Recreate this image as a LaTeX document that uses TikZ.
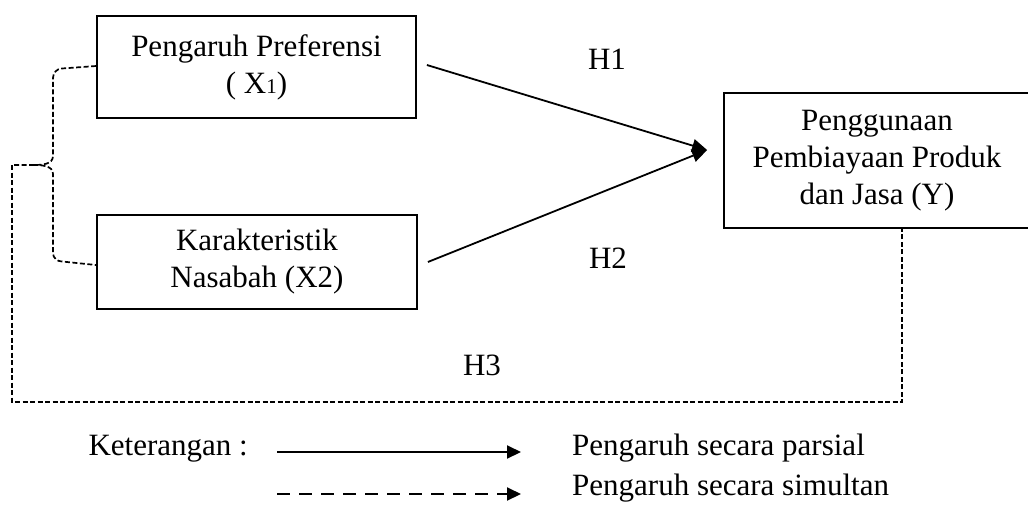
\documentclass[tikz,border=0pt]{standalone}
\usepackage{fontspec}
\setmainfont{Liberation Serif}
\usetikzlibrary{arrows.meta}
\tikzset{
  every node/.style={font=\fontsize{31}{37}\selectfont},
  box/.style={draw, line width=1.8pt, align=center, inner sep=0pt},
  partial/.style={line width=1.8pt, -{Triangle[length=15pt,width=13pt]}},
  simul/.style={line width=1.7pt, dash pattern=on 5pt off 2.5pt},
  legsolid/.style={line width=2pt, -{Triangle[length=14pt,width=13pt]}},
  legdash/.style={line width=2pt, dash pattern=on 13pt off 9pt, -{Triangle[length=14pt,width=13pt]}},
  lbl/.style={inner sep=0pt}
}
\begin{document}
\begin{tikzpicture}[x=1pt,y=-1pt]
\useasboundingbox (0,0) rectangle (1028,515);
% boxes
\node[box, minimum width=319pt, minimum height=102pt] (x1) at (256.5,67)
  {Pengaruh Preferensi\\( X{\fontsize{21}{21}\selectfont 1})};
\node[box, minimum width=320pt, minimum height=94pt] (x2) at (257,262)
  {Karakteristik\\Nasabah (X2)};
\node[box, minimum width=306pt, minimum height=135pt] (y) at (877,160.5)
  {Penggunaan\\Pembiayaan Produk\\dan Jasa (Y)};
% partial arrows
\coordinate (tip) at ([xshift=-16pt,yshift=10.5pt]y.west);
\draw[partial] ([xshift=10pt,yshift=2pt]x1.east) -- (tip);
\draw[partial] ([xshift=10pt]x2.east) -- (tip);
% labels
\node[lbl] (h1) at (607,59) {H1};
\node[lbl] (h2) at (608,258) {H2};
\node[lbl] (h3) at (482,365) {H3};
% brace
\coordinate (bm) at (12,165);
\coordinate (yb) at ([xshift=25pt]y.south);
\draw[simul] ([yshift=1pt]x1.west) -- (62,68.5) to[out=180,in=90] (53,78) -- (53,156)
  to[out=-90,in=0] (33,165) -- (bm);
\draw[simul] (33,165) to[out=0,in=90] (53,174) -- (53,253) to[out=-90,in=180] (62,261.5)
  -- ([yshift=-3pt]x2.west);
\draw[simul] (bm) -- (12,402) -| (yb);
% legend
\node[lbl, anchor=base east] (ket) at (248,455) {Keterangan :};
\coordinate (l1s) at (277,452);
\coordinate (l1e) at (521,452);
\coordinate (l2s) at (277,494);
\coordinate (l2e) at (521,494);
\draw[legsolid] (l1s) -- (l1e);
\draw[legdash] (l2s) -- (l2e);
\node[lbl, anchor=base west] (t1) at (572,455) {Pengaruh secara parsial};
\node[lbl, anchor=base west] (t2) at (572,495) {Pengaruh secara simultan};
\end{tikzpicture}
\end{document}
